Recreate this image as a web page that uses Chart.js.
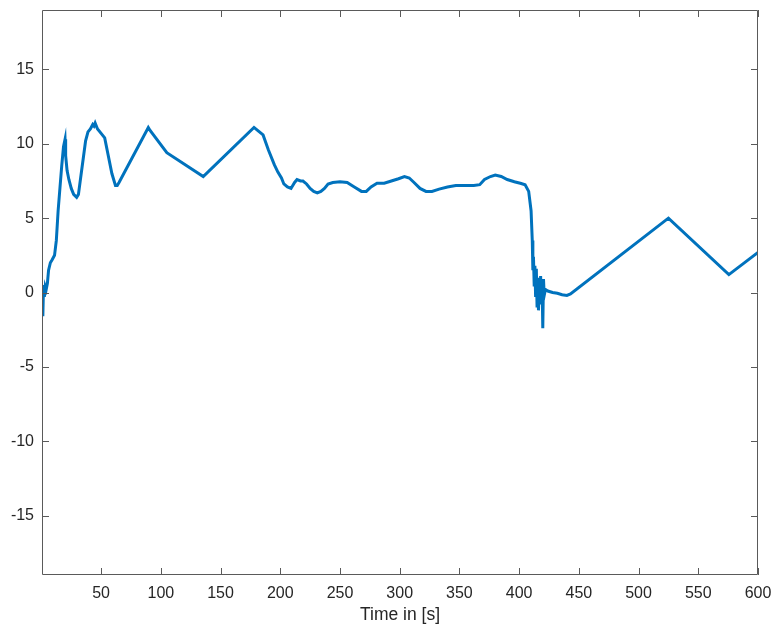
<!DOCTYPE html>
<html>
<head>
<meta charset="utf-8">
<script src="https://cdn.jsdelivr.net/npm/chart.js@4.4.1/dist/chart.umd.min.js"></script>
<style>
  html, body { margin: 0; padding: 0; background: #fff; }
  #wrap { width: 774px; height: 630px; }
</style>
</head>
<body>
<div id="wrap"><canvas id="chart"></canvas></div>
<script>
// Time axis [s] and signal values
const timeS = [
    0.8, 1.2, 1.8, 2.5, 3.2, 4, 5, 6, 7.5, 9, 11, 12.5, 14, 15.5, 17, 18.5, 19.8, 20.3,
    21.5, 23, 25, 27, 29.5, 31, 33, 35, 37, 39, 41, 43, 44, 45, 47, 50, 53, 56, 59, 62,
    63.5, 65, 89.5, 91, 105, 135.5, 178, 181, 185.6, 190, 195, 198, 201, 203, 206, 209,
    212, 214, 217, 219, 222, 225, 228, 231, 234, 237, 240, 244, 250, 256, 262, 268, 272,
    276, 281, 287, 293, 299, 304, 308, 312, 317, 322, 327, 333, 340, 347, 355, 362, 367,
    371, 376, 380, 385, 390, 396, 401, 405, 408, 410, 411, 411.5, 412, 412.6, 413.2,
    413.8, 414.4, 415, 415.6, 416.2, 416.8, 417.4, 418, 418.6, 419.2, 419.8, 420.4, 421,
    422, 424, 428, 432, 436, 440, 443, 525, 575.6, 600
];
const signal = [
    0.3, -1.6, 0.5, -0.3, 0.4, 0.2, 0.6, 1.5, 2.0, 2.2, 2.5, 3.5, 5.5, 7.0, 8.5, 9.8, 10.3, 9.2,
    8.2, 7.6, 7.0, 6.6, 6.4, 6.6, 7.8, 9.0, 10.2, 10.8, 11.0, 11.3, 11.2, 11.4, 11.0, 10.7, 10.4, 9.2, 8.0, 7.2,
    7.2, 7.4, 11.1, 10.9, 9.4, 7.8, 11.1, 10.9, 10.6, 9.6, 8.6, 8.1, 7.7, 7.3, 7.1, 7.0,
    7.4, 7.6, 7.5, 7.5, 7.3, 7.0, 6.8, 6.7, 6.8, 7.0, 7.3, 7.4, 7.45, 7.4, 7.1, 6.8, 6.8,
    7.1, 7.35, 7.35, 7.5, 7.65, 7.8, 7.7, 7.4, 7.0, 6.8, 6.8, 6.95, 7.1, 7.2, 7.2, 7.2, 7.25,
    7.6, 7.8, 7.9, 7.8, 7.6, 7.45, 7.35, 7.25, 6.8, 5.5, 3.5, 1.5, 2.4, 0.5, 1.8,
    -0.3, 1.6, -0.9, 1.0, -1.2, 0.9, -0.6, 1.1, -0.8, 0.6, -2.4, 0.9, -0.2,
    0.2, 0.1, 0.0, -0.05, -0.15, -0.2, -0.1, 5.0, 1.2, 2.7
];
const xTicks = [50, 100, 150, 200, 250, 300, 350, 400, 450, 500, 550, 600];
const yTicks = [-15, -10, -5, 0, 5, 10, 15];
const xTitle = 'Time in [s]';

const axisColor = '#262626';
const fontFamily = 'Helvetica, "Liberation Sans", Arial, sans-serif';

// Box around the plot area with inward MATLAB-style ticks on all four sides
const boxPlugin = {
    id: 'matlabBox',
    afterDraw(chart) {
        const { ctx, chartArea: a, scales } = chart;
        const len = 7;
        ctx.save();
        ctx.strokeStyle = '#5a5a5a';
        ctx.lineWidth = 1;
        ctx.beginPath();
        ctx.rect(a.left + 0.5, a.top + 0.5, a.right - a.left - 1, a.bottom - a.top - 1);
        scales.x.ticks.forEach(t => {
            const px = Math.round(scales.x.getPixelForValue(t.value)) + 0.5;
            ctx.moveTo(px, a.bottom); ctx.lineTo(px, a.bottom - len);
            ctx.moveTo(px, a.top); ctx.lineTo(px, a.top + len);
        });
        scales.y.ticks.forEach(t => {
            const py = Math.round(scales.y.getPixelForValue(t.value)) + 0.5;
            ctx.moveTo(a.left, py); ctx.lineTo(a.left + len, py);
            ctx.moveTo(a.right, py); ctx.lineTo(a.right - len, py);
        });
        ctx.stroke();
        ctx.restore();
    }
};

const points = timeS.map((t, i) => ({ x: t, y: signal[i] }));

new Chart(document.getElementById('chart'), {
    type: 'line',
    data: {
        datasets: [{
            data: points,
            borderColor: '#0072BD',
            borderWidth: 3,
            pointRadius: 0,
            tension: 0,
            fill: false
        }]
    },
    options: {
        responsive: true,
        maintainAspectRatio: false,
        animation: false,
        layout: { padding: { top: 10, right: 16, left: 0, bottom: 0 } },
        plugins: {
            legend: { display: false },
            tooltip: { enabled: false }
        },
        scales: {
            x: {
                type: 'linear',
                min: 0.5,
                max: 600,
                afterBuildTicks: s => { s.ticks = xTicks.map(v => ({ value: v })); },
                afterFit: s => {
                    s.height = 55;
                    s.paddingLeft = 0;
                    s.paddingRight = 0;
                },
                grid: { display: false, drawTicks: false },
                border: { display: false },
                ticks: {
                    color: axisColor,
                    padding: 9,
                    maxRotation: 0,
                    autoSkip: false,
                    font: { family: fontFamily, size: 16 }
                },
                title: {
                    display: true,
                    text: xTitle,
                    color: axisColor,
                    padding: { top: 0, bottom: 4 },
                    font: { family: fontFamily, size: 17.5 }
                }
            },
            y: {
                min: -19,
                max: 19,
                afterBuildTicks: s => { s.ticks = yTicks.map(v => ({ value: v })); },
                afterFit: s => {
                    s.width = 42;
                    s.paddingTop = 0;
                    s.paddingBottom = 0;
                },
                grid: { display: false, drawTicks: false },
                border: { display: false },
                ticks: {
                    color: axisColor,
                    padding: 8,
                    autoSkip: false,
                    font: { family: fontFamily, size: 16 }
                }
            }
        }
    },
    plugins: [boxPlugin]
});
</script>
</body>
</html>
